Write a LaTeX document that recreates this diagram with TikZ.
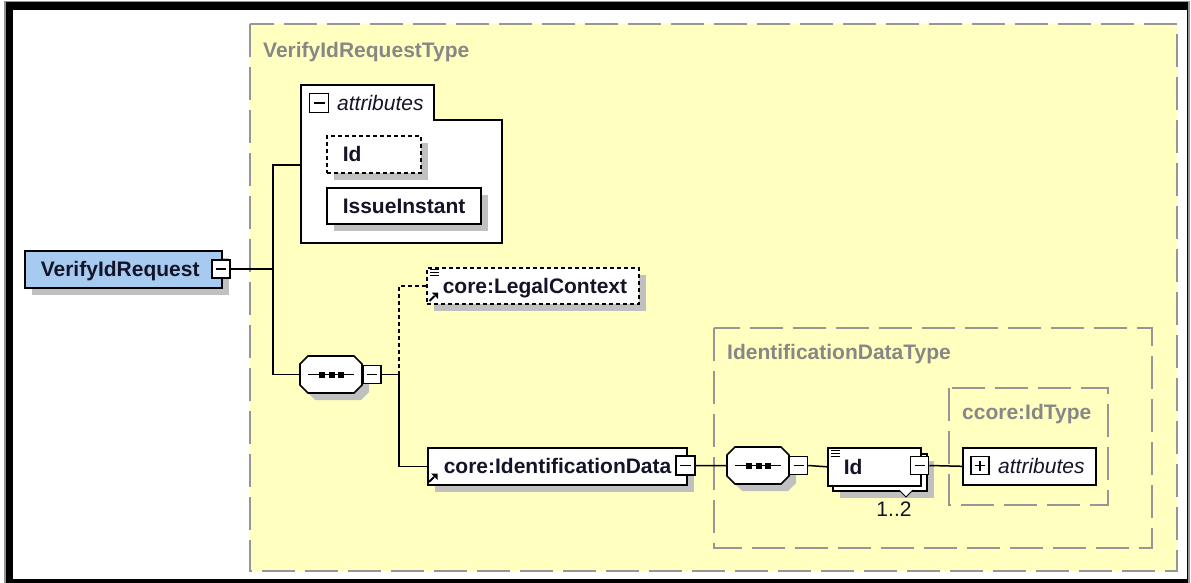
\documentclass[tikz,border=0pt]{standalone}
\usepackage{fontspec}
\setmainfont{Liberation Sans}
\usetikzlibrary{shadows}
\hyphenpenalty=10000
\exhyphenpenalty=10000

\definecolor{paper}{RGB}{255,255,192}
\definecolor{framegray}{RGB}{150,150,150}
\definecolor{shd}{RGB}{192,192,192}
\definecolor{rootblue}{RGB}{166,202,240}
\definecolor{ink}{RGB}{20,20,40}
\definecolor{typegray}{RGB}{135,135,135}

\newcommand\lblfont{\fontsize{21pt}{24pt}\selectfont}

\begin{document}
\begin{tikzpicture}[x=1pt,y=-1pt,
  conn/.style={line width=1.5pt},
  opt/.style={dash pattern=on 4pt off 3pt},
  shadowed/.style={drop shadow={shadow xshift=7pt, shadow yshift=-7pt, fill=shd, opacity=1}},
  elem/.style={draw=black, fill=white, line width=1.6pt, anchor=north west,
    font=\lblfont\bfseries, text=ink, align=left, inner xsep=16pt, inner ysep=0pt,
    text height=15pt, text depth=0pt, minimum height=37pt},
  typebox/.style={draw=framegray, line width=1.8pt, dash pattern=on 33pt off 10pt},
  typelabel/.style={anchor=west, text=typegray, font=\lblfont\bfseries, inner sep=0pt,
    text height=15pt, text depth=0pt},
  plainlabel/.style={anchor=west, text=ink, font=\lblfont\itshape, inner sep=0pt,
    text height=15pt, text depth=0pt},
  mbox/.style={draw=black, fill=white, line width=1.5pt, minimum width=18pt,
    minimum height=18pt, inner sep=0pt,
    path picture={\draw[line width=1.5pt] ([xshift=4pt]path picture bounding box.west)
      -- ([xshift=-4pt]path picture bounding box.east);}},
  pbox/.style={draw=black, fill=white, line width=1.5pt, minimum width=18pt,
    minimum height=18pt, inner sep=0pt,
    path picture={\draw[line width=1.5pt] ([xshift=4pt]path picture bounding box.west)
      -- ([xshift=-4pt]path picture bounding box.east);
      \draw[line width=1.5pt] ([yshift=-4pt]path picture bounding box.north)
      -- ([yshift=4pt]path picture bounding box.south);}},
  seqpic/.pic={
    \fill[shd, shift={(7,7)}] (8,0) -- (54,0) -- (62,8) -- (62,29) -- (54,37) -- (8,37) -- (0,29) -- (0,8) -- cycle;
    \filldraw[fill=white, line width=1.6pt] (8,0) -- (54,0) -- (62,8) -- (62,29) -- (54,37) -- (8,37) -- (0,29) -- (0,8) -- cycle;
    \draw[line width=1.5pt] (8,18.5) -- (54,18.5);
    \fill (19,15.5) rectangle (25,21.5);
    \fill (29,15.5) rectangle (35,21.5);
    \fill (38,15.5) rectangle (44,21.5);
  },
  listicon/.pic={
    \draw[line width=1pt] (0,0) -- (9,0) (0,3) -- (9,3) (0,6) -- (9,6);
  },
  refarrow/.pic={
    \draw[line width=1.8pt] (0,9) -- (5,4);
    \fill (8.5,0.5) -- (8.5,7) -- (2,0.5) -- cycle;
  }
]
\useasboundingbox (0,0) rectangle (1191,583);

% window frame
\fill[framegray] (4,1) rectangle (1189.5,583);
\fill[black] (5.5,2.5) rectangle (1188,583);
\fill[white] (13,10) rectangle (1187,578.5);

% complex type area of the root element
\fill[paper] (250,24) rectangle (1177,571);
\draw[typebox] (250,24) rectangle (1177,571);
\node[typelabel] (rtype) at (263,50) {VerifyIdRequestType};

% root element
\node[elem, shadowed, fill=rootblue, text width=165pt] (root) at (24,250) {VerifyIdRequest};
\node[mbox] (rootm) at (221,269) {};

% attribute group
\draw[line width=1.6pt, fill=white] (301,85) -- (434,85) -- (434,120) -- (502,120) -- (502,243) -- (301,243) -- cycle;
\coordinate (attrgrp) at (301,165);
\node[mbox, minimum width=19pt, minimum height=19pt] (attrm) at (319,103) {};
\node[plainlabel] (attrlbl) at (337,103) {attributes};
\node[elem, opt, shadowed, text width=62pt] (aid) at (326,135) {Id};
\node[elem, shadowed, text width=122pt, minimum height=36pt] (aissue) at (326,187) {IssueInstant};

% sequence compositor
\pic at (300,356) {seqpic};
\node[minimum width=62pt, minimum height=37pt, inner sep=0pt, anchor=north west] (seq1) at (300,356) {};
\node[mbox] (seq1m) at (372,374.5) {};

% child elements
\node[elem, opt, shadowed, text width=180pt, minimum height=36pt] (legal) at (426,267) {core:LegalContext};
\pic at (429.5,269.5) {listicon};
\pic at (429.5,292) {refarrow};

\node[elem, shadowed, text width=227pt] (iddata) at (427,447) {core:IdentificationData};
\pic at (429,473) {refarrow};
\node[mbox, minimum width=19pt, minimum height=19pt] (iddatam) at (685.5,465.5) {};

% nested types
\draw[typebox] (714,328) rectangle (1152,548);
\node[typelabel] (idtype) at (727,352) {IdentificationDataType};
\draw[typebox] (949,388) rectangle (1108,505);
\node[typelabel] (cidtype) at (962,412) {ccore:IdType};

\pic at (727,447) {seqpic};
\node[minimum width=62pt, minimum height=37pt, inner sep=0pt, anchor=north west] (seq2) at (727,447) {};
\node[mbox] (seq2m) at (798.5,465.5) {};

% repeated Id element
\node[draw=black, fill=white, line width=1.6pt, anchor=north west, minimum width=94pt,
  minimum height=37pt, shadowed] (idback) at (832,453) {};
\draw[line width=1pt, fill=white] (899,490) -- (906,497) -- (913,490);
\node[elem, text width=61pt, minimum height=38pt] (idel) at (827,447) {Id};
\pic at (830.5,450.5) {listicon};
\node[mbox] (idelm) at (919.5,465.5) {};
\node[anchor=center, text=ink, font=\lblfont, inner sep=0pt, text height=15pt, text depth=0pt] (mult) at (894,508.5) {1..2};

% collapsed attributes of the Id type
\node[draw=black, fill=white, line width=1.6pt, anchor=north west, minimum width=133pt,
  minimum height=37pt] (attrs2) at (962,447) {};
\node[pbox] (attrs2p) at (980,465.5) {};
\node[plainlabel] (attrs2lbl) at (998,465.5) {attributes};

% connectors
\coordinate (jroot) at (273,269);
\coordinate (jseq) at (399,374.5);
\draw[conn] (rootm.east) -- (jroot) |- (attrgrp);
\draw[conn] (jroot) |- (seq1.west);
\draw[conn] (seq1m.east) -- (jseq);
\draw[conn, opt] (jseq) |- (legal.west);
\draw[conn] (jseq) |- (iddata.west);
\draw[conn] (iddatam.east) -- (seq2.west);
\draw[conn] (seq2m.east) -- (idel.west);
\draw[conn] (idelm.east) -- (attrs2.west);
\end{tikzpicture}
\end{document}
